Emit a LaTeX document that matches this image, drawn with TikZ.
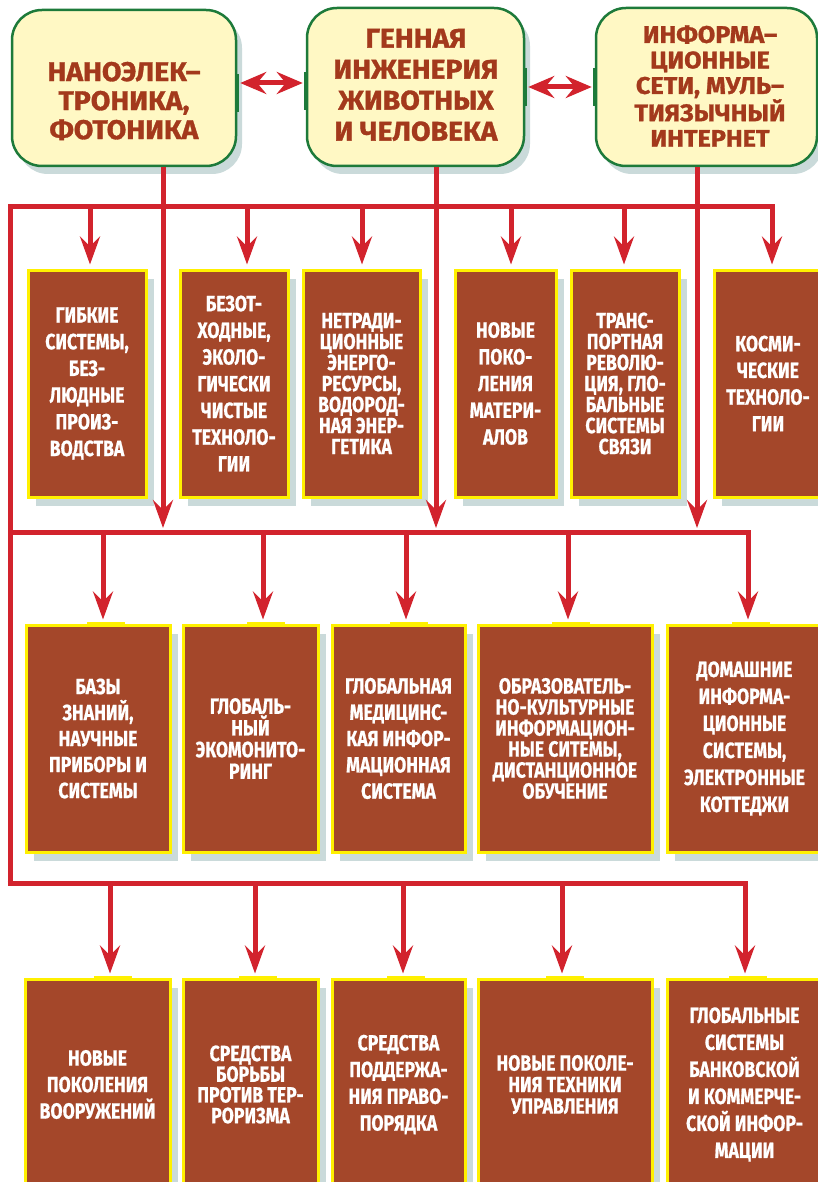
\documentclass[tikz,border=0pt]{standalone}
\usepackage{fontspec}
\newfontfamily\topfont[FakeBold=1.2,FakeStretch=1.05]{Fira Sans}
\newfontfamily\boxfont[FakeStretch=0.8,FakeBold=0.8]{Fira Sans}
\usetikzlibrary{arrows.meta,shadows}
\definecolor{redl}{HTML}{D2232D}
\definecolor{brownb}{HTML}{A4472A}
\definecolor{yelb}{HTML}{FFF000}
\definecolor{topfill}{HTML}{FFF8C4}
\definecolor{greenb}{HTML}{1D7A3A}
\definecolor{toptext}{HTML}{A3391C}
\definecolor{shadc}{HTML}{CADADA}
\newcommand\toptf[2]{\topfont\bfseries\fontsize{#1}{#2}\selectfont}
\newcommand\boxtf[1]{\boxfont\bfseries\fontsize{22}{#1}\selectfont}
\tikzset{
  topbox/.style={draw=greenb, line width=2.5pt, fill=topfill, rounded corners=30pt, inner sep=0pt,
    drop shadow={shadow xshift=6pt, shadow yshift=-8pt, fill=shadc, opacity=1}},
  toptxt/.style={text=toptext, align=center, inner sep=0pt},
  brbox/.style={draw=yelb, line width=3pt, fill=brownb, text=white, align=center, inner sep=0pt,
    drop shadow={shadow xshift=8pt, shadow yshift=-9pt, fill=shadc, opacity=1}},
  bx/.style={font=\boxtf{#1}},
  busline/.style={draw=redl, line width=5pt, line join=miter},
  arr/.style={busline, shorten >=4pt, -{Stealth[length=28pt,width=20pt,inset=10pt]}},
  dblarr/.style={draw=redl, line width=5pt, shorten <=3pt, shorten >=3pt,
    {Stealth[length=26pt,width=22pt,inset=9pt]}-{Stealth[length=26pt,width=22pt,inset=9pt]}},
  gmark/.style={draw=greenb, line width=4pt},
  ybar/.style={draw=yelb, line width=5pt},
}
\begin{document}
\begin{tikzpicture}[x=1pt,y=-1pt]
\useasboundingbox (0,0) rectangle (818,1182);
\fill[white] (0,0) rectangle (818,1182);

% top boxes
\node[topbox, minimum width=224pt, minimum height=156pt] (t1) at (124,88) {};
\node[topbox, minimum width=217pt, minimum height=158pt] (t2) at (415.5,87) {};
\node[topbox, minimum width=221pt, minimum height=158pt] (t3) at (706.5,87) {};
\node[toptxt, font=\toptf{27}{29}] (t1x) at (124,101) {НАНОЭЛЕК–\\ТРОНИКА,\\ФОТОНИКА};
\node[toptxt, font=\toptf{27}{31}] (t2x) at (416,85) {ГЕННАЯ\\ИНЖЕНЕРИЯ\\ЖИВОТНЫХ\\И ЧЕЛОВЕКА};
\node[toptxt, font=\toptf{24}{25.5}] (t3x) at (710,86) {ИНФОРМА–\\ЦИОННЫЕ\\СЕТИ, МУЛЬ–\\ТИЯЗЫЧНЫЙ\\ИНТЕРНЕТ};

% green marks and double arrows
\draw[gmark] ([yshift=19pt]t1.east) ++(0,5) -- ++(0,38);
\draw[gmark] ([yshift=19pt]t2.west) ++(0,4) -- ++(0,38);
\draw[gmark] ([yshift=19pt]t2.east) -- ++(0,38);
\draw[gmark] ([yshift=19pt]t3.west) -- ++(0,38);
\draw[dblarr] ([yshift=5pt]t1.east) -- ([yshift=4pt]t2.west);
\draw[dblarr] (t2.east) -- (t3.west);

% row 1
\node[brbox, bx=26.7, minimum width=118pt, minimum height=227pt] (a1) at (87,383.5) {ГИБКИЕ\\СИСТЕМЫ,\\БЕЗ-\\ЛЮДНЫЕ\\ПРОИЗ-\\ВОДСТВА};
\node[brbox, bx=26.7, minimum width=108pt, minimum height=227pt] (b1) at (234,383.5) {БЕЗОТ-\\ХОДНЫЕ,\\ЭКОЛО-\\ГИЧЕСКИ\\ЧИСТЫЕ\\ТЕХНОЛО-\\ГИИ};
\node[brbox, bx=21, minimum width=117pt, minimum height=227pt] (c1) at (361.5,383.5) {НЕТРАДИ-\\ЦИОННЫЕ\\ЭНЕРГО-\\РЕСУРСЫ,\\ВОДОРОД-\\НАЯ ЭНЕР-\\ГЕТИКА};
\node[brbox, bx=26.7, minimum width=101pt, minimum height=227pt] (d1) at (505.5,383.5) {НОВЫЕ\\ПОКО-\\ЛЕНИЯ\\МАТЕРИ-\\АЛОВ};
\node[brbox, bx=21, minimum width=108pt, minimum height=227pt] (e1) at (625,383.5) {ТРАНС-\\ПОРТНАЯ\\РЕВОЛЮ-\\ЦИЯ, ГЛО-\\БАЛЬНЫЕ\\СИСТЕМЫ\\СВЯЗИ};
\node[brbox, bx=26.7, minimum width=108pt, minimum height=227pt] (f1) at (768,383.5) {КОСМИ-\\ЧЕСКИЕ\\ТЕХНОЛО-\\ГИИ};

% row 2
\node[brbox, bx=26, minimum width=144pt, minimum height=227pt] (a2) at (98,738.5) {БАЗЫ\\ЗНАНИЙ,\\НАУЧНЫЕ\\ПРИБОРЫ И\\СИСТЕМЫ};
\node[brbox, bx=21.7, minimum width=135pt, minimum height=227pt] (b2) at (250.5,738.5) {ГЛОБАЛЬ-\\НЫЙ\\ЭКОМОНИТО-\\РИНГ};
\node[brbox, bx=26.3, minimum width=133pt, minimum height=227pt] (c2) at (398.5,738.5) {ГЛОБАЛЬНАЯ\\МЕДИЦИНС-\\КАЯ ИНФОР-\\МАЦИОННАЯ\\СИСТЕМА};
\node[brbox, bx=21, minimum width=174pt, minimum height=227pt] (d2) at (565,738.5) {ОБРАЗОВАТЕЛЬ-\\НО-КУЛЬТУРНЫЕ\\ИНФОРМАЦИОН-\\НЫЕ СИТЕМЫ,\\ДИСТАНЦИОННОЕ\\ОБУЧЕНИЕ};
\node[brbox, bx=27, minimum width=155pt, minimum height=227pt] (e2) at (744.5,738.5) {ДОМАШНИЕ\\ИНФОРМА-\\ЦИОННЫЕ\\СИСТЕМЫ,\\ЭЛЕКТРОННЫЕ\\КОТТЕДЖИ};

% row 3
\node[brbox, bx=26.5, minimum width=145pt, minimum height=211pt] (a3) at (97.5,1084.5) {НОВЫЕ\\ПОКОЛЕНИЯ\\ВООРУЖЕНИЙ};
\node[brbox, bx=20.7, minimum width=135pt, minimum height=211pt] (b3) at (250.5,1084.5) {СРЕДСТВА\\БОРЬБЫ\\ПРОТИВ ТЕР-\\РОРИЗМА};
\node[brbox, bx=26.7, minimum width=133pt, minimum height=211pt] (c3) at (398.5,1084.5) {СРЕДСТВА\\ПОДДЕРЖА-\\НИЯ ПРАВО-\\ПОРЯДКА};
\node[brbox, bx=21.5, minimum width=174pt, minimum height=211pt] (d3) at (565,1084.5) {НОВЫЕ ПОКОЛЕ-\\НИЯ ТЕХНИКИ\\УПРАВЛЕНИЯ};
\node[brbox, bx=27, minimum width=155pt, minimum height=211pt] (e3) at (744.5,1084.5) {ГЛОБАЛЬНЫЕ\\СИСТЕМЫ\\БАНКОВСКОЙ\\И КОММЕРЧЕ-\\СКОЙ ИНФОР-\\МАЦИИ};

% bus coordinates
\coordinate (k0) at (10,883);
\coordinate (k0t) at (10,207);
\coordinate (k1) at (772,207);
\coordinate (k2L) at (10,532);
\coordinate (k2R) at (748,532);
\coordinate (k3L) at (7.5,883);
\coordinate (k3R) at (745,883);
\coordinate (p11) at (90,207);
\coordinate (p12) at (247,207);
\coordinate (p13) at (362,207);
\coordinate (p14) at (511,207);
\coordinate (p15) at (624,207);
\coordinate (p21) at (103,532);
\coordinate (p22) at (263,532);
\coordinate (p23) at (406,532);
\coordinate (p24) at (568,532);
\coordinate (p31) at (110,883);
\coordinate (p32) at (255,883);
\coordinate (p33) at (403,883);
\coordinate (p34) at (562,883);
\coordinate (q1) at (163,532);
\coordinate (q2) at (436,532);
\coordinate (q3) at (697,532);

% bus lines
\draw[arr] (k0) -- (k0t) -- (k1) -- (k1 |- f1.north);
\draw[arr] (k2L) -- (k2R) -- (k2R |- e2.north);
\draw[arr] (k3L) -- (k3R) -- (k3R |- e3.north);

% verticals from top boxes to bus 2
\draw[arr] (t1.south -| q1) -- (q1);
\draw[arr] (t2.south -| q2) -- (q2);
\draw[arr] (t3.south -| q3) -- (q3);

% drops
\foreach \p/\b in {p11/a1,p12/b1,p13/c1,p14/d1,p15/e1,p21/a2,p22/b2,p23/c2,p24/d2,p31/a3,p32/b3,p33/c3,p34/d3}
  \draw[arr] (\p) -- (\p |- \b.north);

% yellow highlight bars
\foreach \p/\b in {p21/a2,p22/b2,p23/c2,p24/d2,k2R/e2,p31/a3,p32/b3,p33/c3,p34/d3,k3R/e3}
  \draw[ybar] (\p |- \b.north) ++(-16,1) -- ++(38,0);
\end{tikzpicture}
\end{document}
